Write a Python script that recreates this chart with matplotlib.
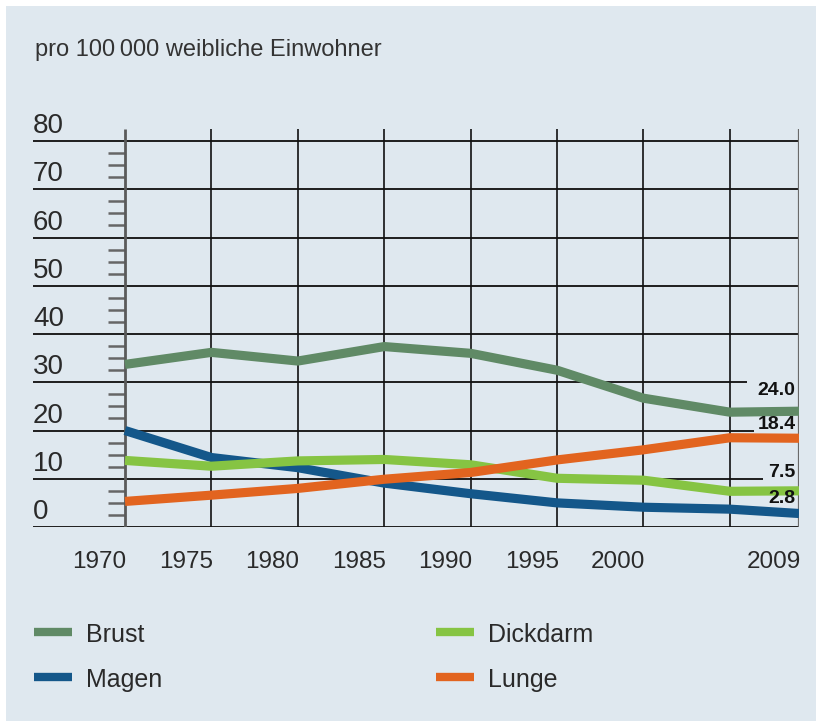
import matplotlib
matplotlib.use('Agg')
import matplotlib.pyplot as plt
from matplotlib.lines import Line2D
from matplotlib.patches import Rectangle

plt.rcParams['font.family'] = ['Liberation Sans Narrow', 'Liberation Sans', 'DejaVu Sans']

# data
years = [1970, 1975, 1980, 1985, 1990, 1995, 2000, 2005, 2009]
brust = [33.7, 36.2, 34.4, 37.4, 36.0, 32.5, 26.7, 23.8, 24.0]
magen = [20.0, 14.4, 12.3, 9.1, 6.9, 5.0, 4.1, 3.7, 2.8]
dickdarm = [13.8, 12.6, 13.7, 14.0, 12.9, 10.1, 9.7, 7.4, 7.5]
lunge = [5.3, 6.6, 8.0, 9.9, 11.3, 13.9, 16.0, 18.5, 18.4]

series = [('Brust', brust, '#608a66'),
          ('Magen', magen, '#14578a'),
          ('Dickdarm', dickdarm, '#86c443'),
          ('Lunge', lunge, '#e2641f')]
end_labels = ['24.0', '2.8', '7.5', '18.4']
yticks = [0, 10, 20, 30, 40, 50, 60, 70, 80]
xlabels = ['1970', '1975', '1980', '1985', '1990', '1995', '2000', '', '2009']

W, H = 817, 721
bg = '#dfe8ef'
fig = plt.figure(figsize=(W / 100, H / 100), dpi=100, facecolor='white')
fig.patches.append(Rectangle((6 / W, 0), (W - 7) / W, (H - 6) / H,
                             transform=fig.transFigure, facecolor=bg,
                             edgecolor='none', zorder=-10))

# axes spans from x=33 to x=799, y=129 to y=527 (pixels)
ax = fig.add_axes([33 / W, (H - 527) / H, (799 - 33) / W, (527 - 129) / H])
ax.set_facecolor('none')
pxyr = (730 - 125) / 35.0
x0 = 1970 - (125 - 33) / pxyr
ax.set_xlim(x0, 2009)
ax.set_ylim(0, 82.5)
ax.axis('off')

# horizontal grid lines (some end early to make room for the end values)
hend = {30: 2006.0, 20: 2006.4, 10: 2006.9}
for v in yticks:
    ax.hlines(v, x0, hend.get(v, 2009), color='#1e1e1e', lw=1.4, zorder=1)
    ax.text(x0, v + 1.65, str(v), ha='left', va='baseline',
            fontsize=20, color='#2a2a2a')

# minor ticks left of the y axis
minor = [m * 2.5 for m in range(33) if m % 4 != 0]
ax.hlines(minor, 1970 - 17 / pxyr, 1970, color='#666666', lw=1.8, zorder=1)

# vertical grid lines
for yr, lab in zip(years, xlabels):
    if yr == 1970:
        ax.vlines(yr, 0, 82.5, color='#5a5a5a', lw=2.0, zorder=1)
    elif yr == 2009:
        ax.vlines(yr, 0, 82.5, color='#6a6a6a', lw=1.6, zorder=1)
    else:
        ax.vlines(yr, 0, 82.5, color='#111111', lw=1.2, zorder=1)
    if lab:
        ax.text(yr + 0.1, -8.4, lab, ha='right', va='baseline', fontsize=17.5,
                color='#2a2a2a')

for name, vals, col in series:
    ax.plot(years, vals, color=col, lw=6.6, solid_joinstyle='round',
            solid_capstyle='butt', zorder=3)

# end value labels
lab_y = {'24.0': 28.2, '18.4': 21.2, '7.5': 11.3, '2.8': 6.0}
for s, lab in zip(series, end_labels):
    ax.text(2008.8, lab_y[lab], lab, ha='right', va='center', fontsize=14,
            fontweight='bold', color='#111111', zorder=4)

# title
fig.text(35 / W, 1 - 56 / H, 'pro 100\u2009000 weibliche Einwohner',
         ha='left', va='baseline', fontsize=17, color='#333333')

# legend
pos = [(34, 632), (34, 677), (436, 632), (436, 677)]
for (name, vals, col), (px, py) in zip(series, pos):
    fig.add_artist(Line2D([px / W, (px + 38) / W], [1 - py / H, 1 - py / H],
                          transform=fig.transFigure, color=col, lw=6,
                          solid_capstyle='butt'))
    fig.text((px + 52) / W, 1 - (py + 10) / H, name, ha='left',
             va='baseline', fontsize=18, color='#2a2a2a')

fig.savefig('out.png', dpi=100, facecolor='white')
